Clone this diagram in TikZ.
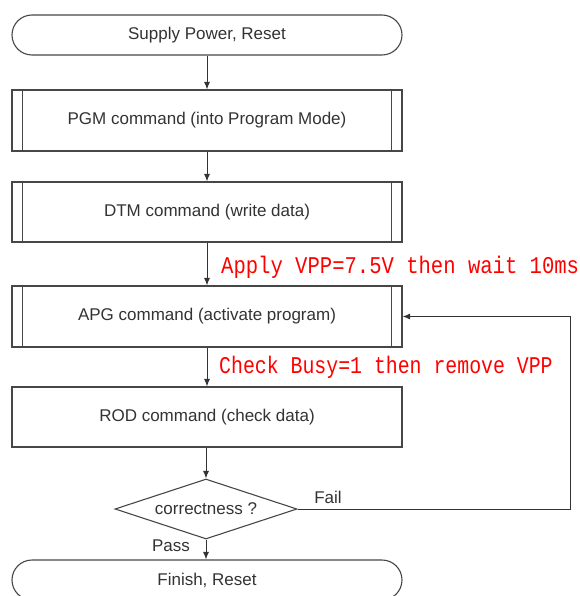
\documentclass[tikz,border=0pt]{standalone}
\usepackage{fontspec}
\setmainfont{Liberation Sans}
\newfontfamily\redmonoA[FakeStretch=0.857]{Liberation Mono}
\newfontfamily\redmonoB[FakeStretch=0.827]{Liberation Mono}
\usetikzlibrary{arrows.meta,shapes.geometric}
\begin{document}
\begin{tikzpicture}[x=1pt,y=-1pt,
  line/.style={draw=black!72,line width=1.1pt},
  txt/.style={font=\fontsize{17}{20}\selectfont,text=black!80},
  term/.style={line,txt,rounded corners=20pt,minimum width=390pt,minimum height=40pt,inner sep=0pt},
  proc/.style={line,txt,minimum width=390pt,minimum height=61pt,inner sep=0pt},
  dec/.style={line,txt,diamond,aspect=3,minimum width=182pt,minimum height=60pt,inner sep=0pt},
  flow/.style={line width=1pt,draw=black!80,-{Latex[length=7.5pt,width=6pt]}},
  redlbl/.style={text=red,anchor=base west,inner sep=0pt},
  lbl/.style={txt,inner sep=0pt}]
\useasboundingbox (0,0) rectangle (579,596);
\fill[white] (0,0) rectangle (579,596);

\node[term] (start) at (207,35) {Supply Power, Reset};
\node[proc] (pgm) at (207,120.5) {PGM command (into Program Mode)};
\node[proc,minimum height=60pt] (dtm) at (207,212) {DTM command (write data)};
\node[proc] (apg) at (207,316.5) {APG command (activate program)};
\node[proc,minimum height=60pt] (rod) at (207,417) {ROD command (check data)};
\node[dec] (dec) at (206,509) {correctness ?};
\node[term] (fin) at (207,580) {Finish, Reset};

\foreach \n in {pgm,dtm,apg}{
  \draw[line] ([xshift=11pt]\n.north west) -- ([xshift=11pt]\n.south west);
  \draw[line] ([xshift=-11pt]\n.north east) -- ([xshift=-11pt]\n.south east);
}

\draw[flow] (start) -- (pgm);
\draw[flow] (pgm) -- (dtm);
\draw[flow] (dtm) -- (apg);
\draw[flow] (apg) -- (rod);
\draw[flow] (rod.south -| dec.north) -- (dec.north);
\draw[flow] (dec.south) -- (dec.south |- fin.north);

\coordinate (f1) at (570,509);
\coordinate (f2) at (570,316.5);
\draw[flow] (dec.east) -- (f1) -- (f2) -- (apg.east);

\node[redlbl,font=\redmonoA\fontsize{24}{28}\selectfont] (l1) at (221,273) {Apply VPP=7.5V then wait 10ms};
\node[redlbl,font=\redmonoB\fontsize{24}{28}\selectfont] (l2) at (219,373) {Check Busy=1 then remove VPP};
\node[lbl] (fail) at (328,497) {Fail};
\node[lbl] (pass) at (171,546) {Pass};
\end{tikzpicture}
\end{document}
